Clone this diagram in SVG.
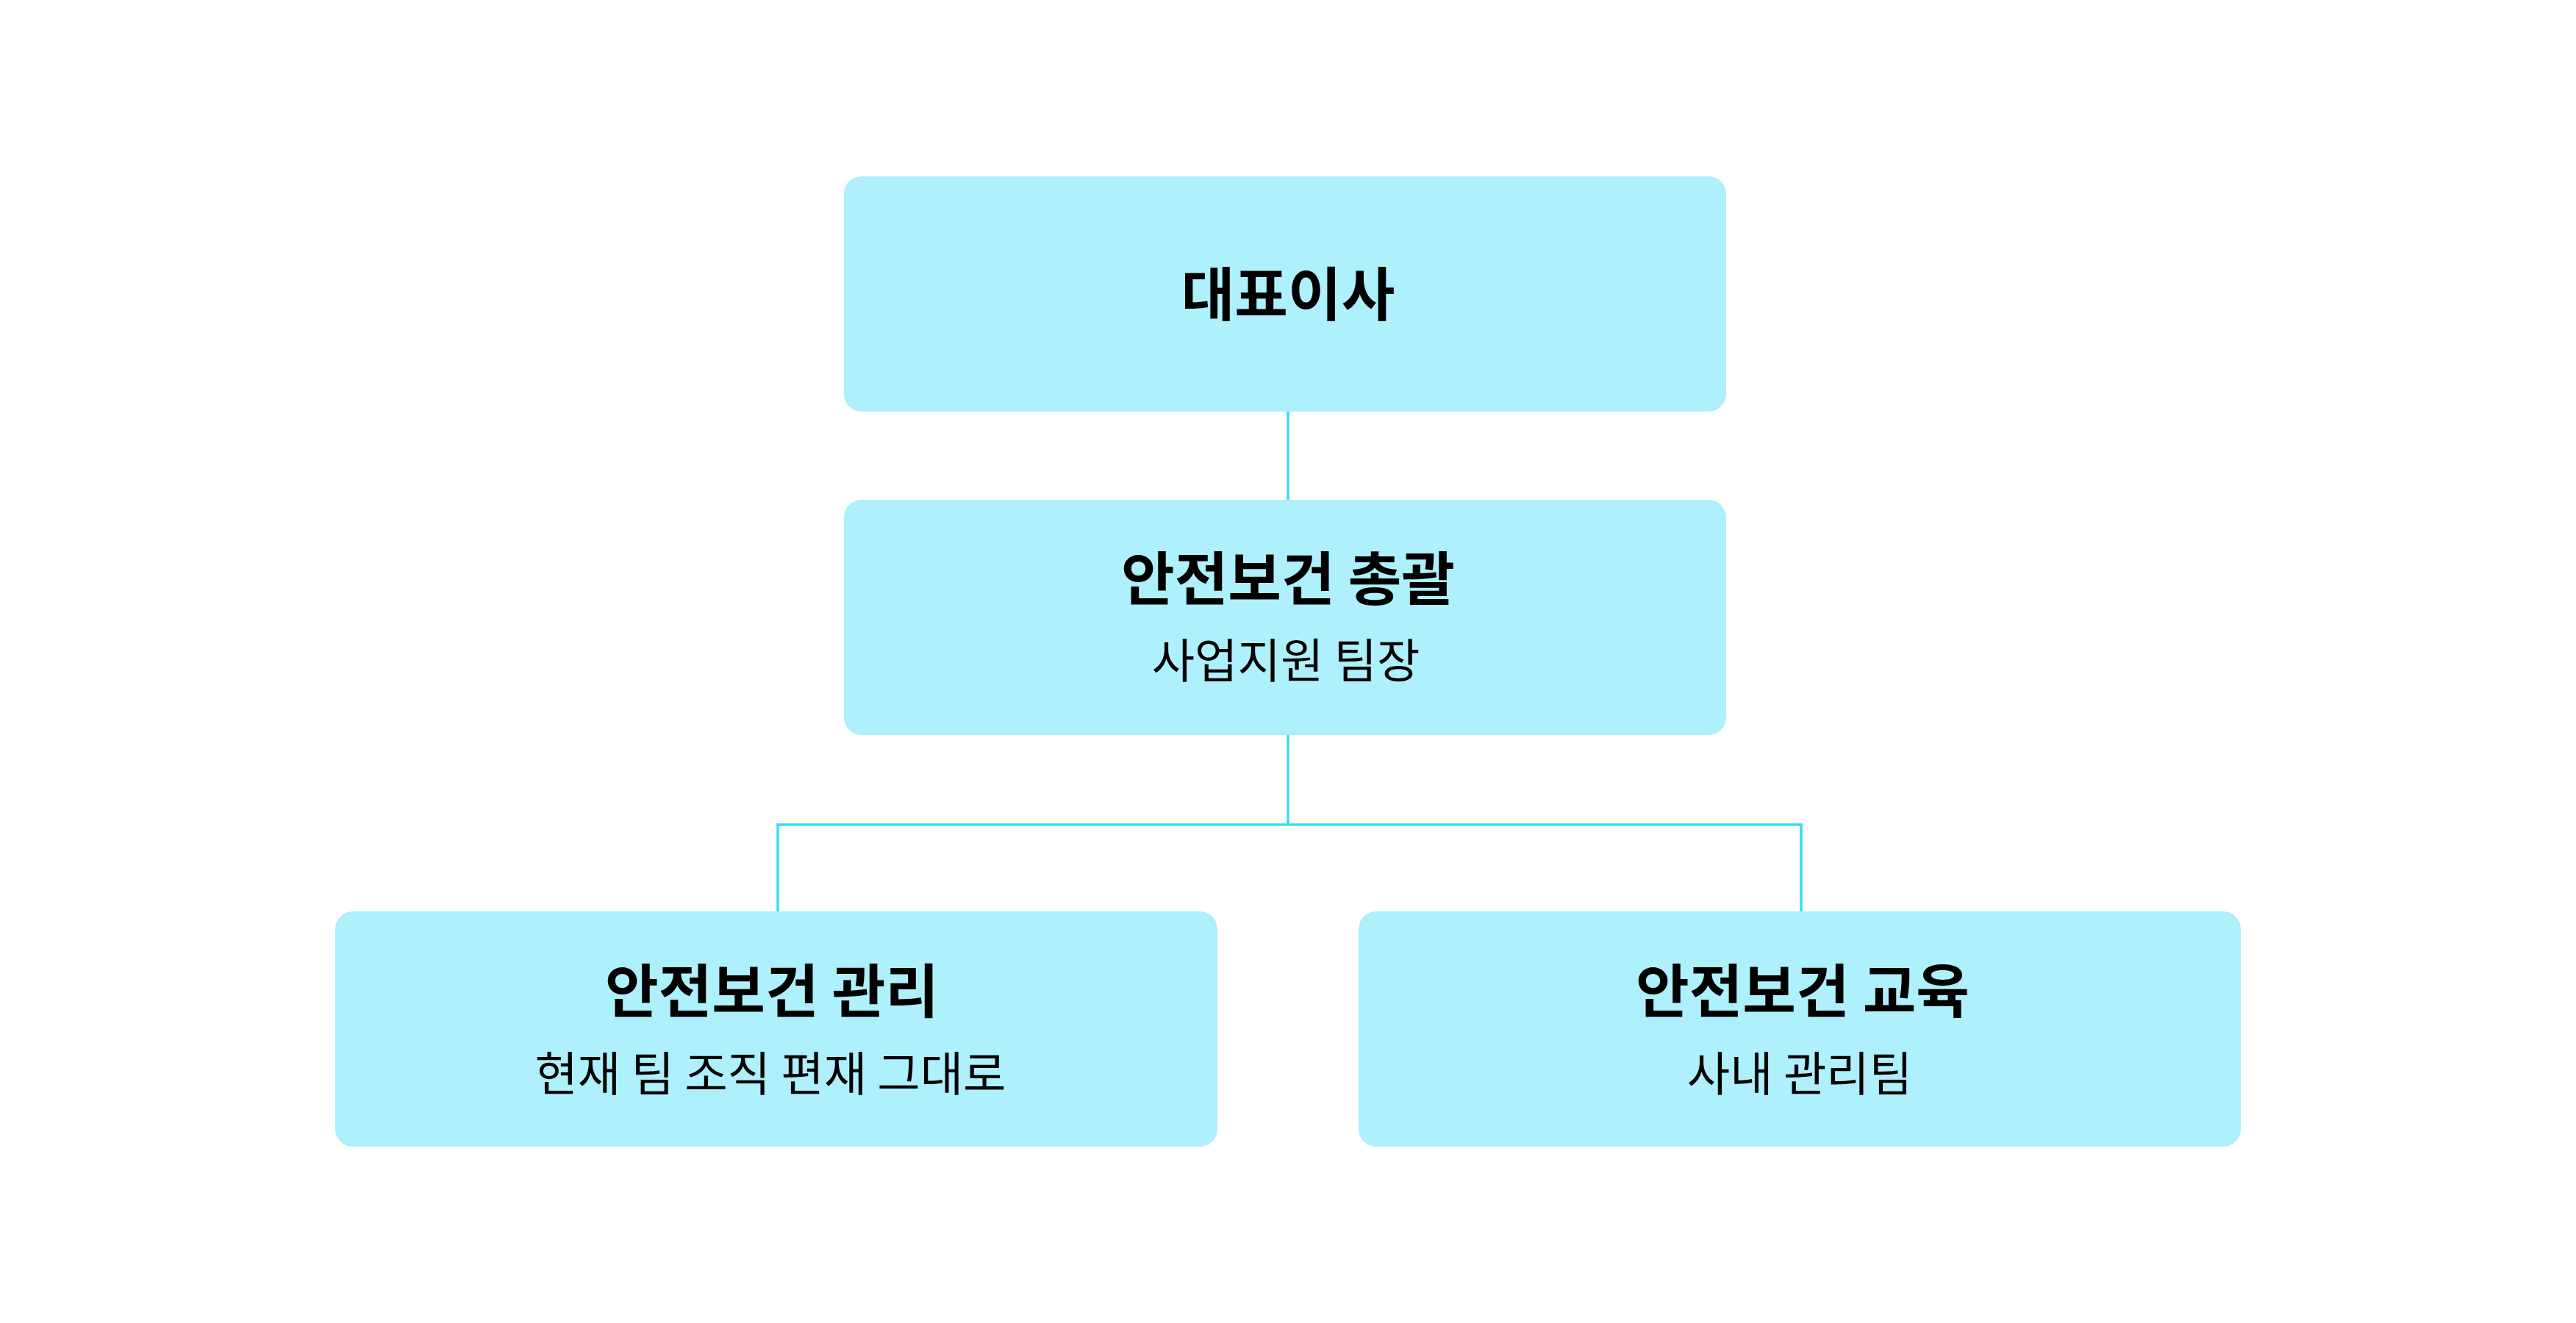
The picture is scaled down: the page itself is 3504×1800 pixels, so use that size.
<svg xmlns="http://www.w3.org/2000/svg" width="3504" height="1800" viewBox="0 0 3504 1800">
<style>
.box{fill:#AEF0FC;}
.conn{fill:none;stroke:#38DCF8;stroke-width:3.5;}
text{font-family:"Noto Sans CJK KR","Noto Sans",sans-serif;fill:#000;text-anchor:middle;}
.t{font-size:79px;font-weight:700;}
.s{font-size:63.5px;font-weight:400;}
</style>
<rect width="3504" height="1800" fill="#FFFFFF"/>
<g id="connectors">
<path class="conn" d="M1752 560 V680"/>
<path class="conn" d="M1752 1000 V1122"/>
<path class="conn" d="M1058 1240 V1122 H2450 V1240"/>
</g>
<g id="node-ceo">
<rect class="box" x="1148" y="240" width="1200" height="320" rx="24"/>
<text class="t" x="1752" y="430">대표이사</text>
</g>
<g id="node-general">
<rect class="box" x="1148" y="680" width="1200" height="320" rx="24"/>
<text class="t" x="1752" y="817">안전보건 총괄</text>
<text class="s" x="1749" y="922">사업지원 팀장</text>
</g>
<g id="node-management">
<rect class="box" x="456" y="1240" width="1200" height="320" rx="24"/>
<text class="t" x="1050" y="1378">안전보건 관리</text>
<text class="s" x="1048" y="1484">현재 팀 조직 편재 그대로</text>
</g>
<g id="node-education">
<rect class="box" x="1848" y="1240" width="1200" height="320" rx="24"/>
<text class="t" x="2452" y="1378">안전보건 교육</text>
<text class="s" x="2448" y="1484">사내 관리팀</text>
</g>
</svg>
